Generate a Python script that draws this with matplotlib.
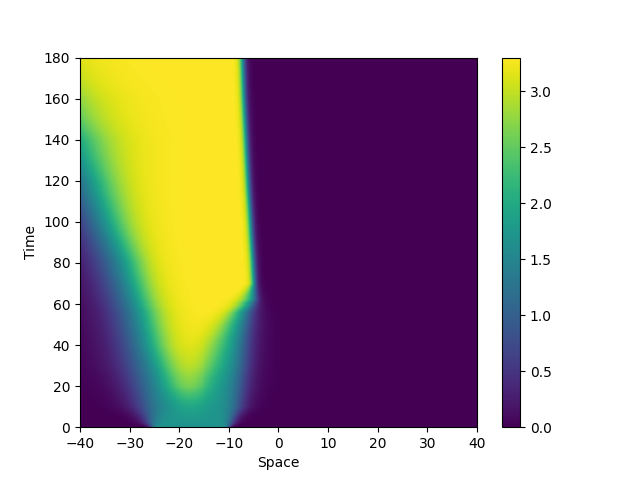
import matplotlib
matplotlib.use('Agg')
import matplotlib.pyplot as plt
import numpy as np

# time knots and the front positions at those times
t_knots = [0, 2, 10, 20, 30, 40, 50, 56, 62, 70, 80, 100, 120, 140, 160, 180]

yellow_left = [-18, -19, -20, -21.5, -23, -24.5, -25.5, -26, -27, -28, -29, -32.5, -35.5, -39, -45, -52]
yellow_left_w = [1.8, 1.8, 1.8, 1.8, 2, 2, 2, 2, 2, 2, 2, 2.5, 3, 4, 5, 5]
yellow_right = [-16, -16, -16, -15, -13.5, -12, -10, -8.7, -6.5, -5.0, -5.1, -5.6, -6.1, -6.5, -6.9, -7.2]
yellow_right_w = [1.8, 1.8, 1.8, 1.8, 2, 2, 1.6, 1.2, 1.0, 0.4, 0.4, 0.4, 0.4, 0.4, 0.4, 0.4]
yellow_amp = [0, 0, 0.3, 0.8, 0.97, 1, 1, 1, 1, 1, 1, 1, 1, 1, 1, 1]

shelf_left = [-25.5, -26, -27, -28, -29, -30, -31, -31.5, -32.5, -33.5, -35, -38, -41, -44.5, -50, -56]
shelf_left_w = [0.3, 0.8, 2, 2.5, 3, 3, 3, 3, 3, 3, 3, 3, 3.5, 4, 4, 4]
shelf_right = [-10, -9.5, -8, -7.5, -7, -6.8, -6.3, -5.8, -4.6, -4.8, -5.1, -5.6, -6.1, -6.5, -6.9, -7.2]
shelf_right_w = [0.3, 0.6, 1.2, 1.4, 1.4, 1.4, 1.3, 1.1, 0.5, 0.4, 0.4, 0.4, 0.4, 0.4, 0.4, 0.4]

shelf_level = 1.7
top_level = 3.3
init_level = 2.6

x = np.linspace(-40, 40, 401)
t = np.linspace(0, 180, 361)
X, T = np.meshgrid(x, t)


def edge(knots):
    return np.interp(T, t_knots, knots)


def sig(z):
    return 1 / (1 + np.exp(-z))


m_shelf = sig((X - edge(shelf_left)) / edge(shelf_left_w)) * sig((edge(shelf_right) - X) / edge(shelf_right_w))
m_top = sig((X - edge(yellow_left)) / edge(yellow_left_w)) * sig((edge(yellow_right) - X) / edge(yellow_right_w))
u = shelf_level * m_shelf + (top_level - shelf_level) * edge(yellow_amp) * m_top
u[0] = np.where((x > -25.5) & (x < -10), init_level, 0)

plt.figure(figsize=(6.4, 4.8))
plt.pcolormesh(x, t, u, shading='auto', vmin=0, vmax=top_level)
plt.colorbar()
plt.xlim(-40, 40)
plt.ylim(0, 180)
plt.yticks(np.arange(0, 181, 20))
plt.xlabel('Space')
plt.ylabel('Time')
plt.savefig('out.png', dpi=100)
